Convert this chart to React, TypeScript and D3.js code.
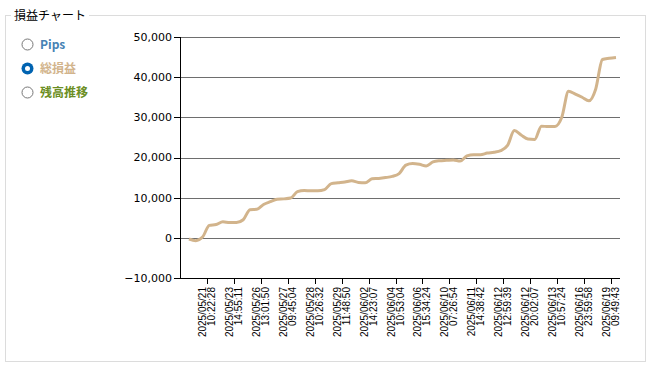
import { scaleLinear, line, curveMonotoneX, format } from "d3";

// 凡例(ラジオボタン)
const seriesNames = ["Pips", "総損益", "残高推移"];
const seriesColors = ["#4682B4", "#D2B48C", "#6B8E23"];
const selectedSeries = 1;

// 総損益の推移(取引ごと)
const pnl = [
  -300, -700, 200, 3100, 3300, 4000, 3800, 3800, 4500, 7000,
  7100, 8300, 9000, 9600, 9700, 9900, 11500, 11800, 11700, 11700,
  12000, 13500, 13700, 13900, 14200, 13800, 13700, 14700, 14800, 15000,
  15300, 16000, 18100, 18500, 18300, 17900, 18900, 19200, 19300, 19400,
  19100, 20400, 20700, 20700, 21100, 21300, 21700, 23000, 26700, 25600,
  24600, 24500, 27800, 27700, 27700, 30000, 36500, 35800, 35000, 34100,
  37000, 44400, 44700, 44900,
];

// X軸ラベル
const tickDates = [
  "2025/05/21", "2025/05/23", "2025/05/26", "2025/05/27",
  "2025/05/28", "2025/05/29", "2025/06/02", "2025/06/04",
  "2025/06/06", "2025/06/10", "2025/06/11", "2025/06/12",
  "2025/06/12", "2025/06/13", "2025/06/16", "2025/06/19",
];
const tickTimes = [
  "10:22:28", "14:55:11", "13:01:50", "09:45:04",
  "10:26:32", "11:48:50", "14:23:07", "10:53:04",
  "15:34:24", "07:26:54", "14:38:42", "12:59:39",
  "20:02:07", "10:57:24", "23:59:58", "09:49:43",
];

const yTicks = [-10000, 0, 10000, 20000, 30000, 40000, 50000];

const W = 654;
const H = 371;
const plot = { left: 180, right: 620, top: 37, bottom: 278 };

export default function App() {
  const x = scaleLinear().domain([0, pnl.length - 1]).range([189, 616]);
  const xTick = scaleLinear().domain([0, tickDates.length]).range([plot.left, 611]);
  const y = scaleLinear().domain([-10000, 50000]).range([plot.bottom, plot.top]);
  const fmt = format(",");

  const path = line<number>()
    .x((_, i) => x(i))
    .y((d) => y(d))
    .curve(curveMonotoneX)(pnl);

  const crisp = (v: number) => Math.round(v) + 0.5;

  return (
    <div style={{ position: "fixed", left: 0, top: 0, background: "#fff" }}>
      <svg width={W} height={H} style={{ display: "block" }}>
        <rect width={W} height={H} fill="#fff" />

        {/* グループボックス */}
        <rect x={5.5} y={15.5} width={640} height={346} fill="none" stroke="#dcdcdc" />
        <rect x={11} y={6} width={78} height={18} fill="#fff" />
        <text x={14} y={19.5} fontFamily="'Noto Sans CJK JP'" fontSize={12} fill="#000">
          損益チャート
        </text>

        {/* ラジオボタン */}
        {seriesNames.map((name, i) => {
          const cy = 44 + i * 24;
          const on = i === selectedSeries;
          return (
            <g key={name}>
              {on ? (
                <>
                  <circle cx={27.5} cy={cy + 0.5} r={6} fill="#0063B1" />
                  <circle cx={27.5} cy={cy + 0.5} r={2.5} fill="#fff" />
                </>
              ) : (
                <circle cx={27.5} cy={cy + 0.5} r={5.5} fill="#fff" stroke="#777" strokeWidth={1} />
              )}
              <text
                x={40}
                y={cy + 5}
                fontFamily="'Noto Sans CJK JP'"
                fontWeight="bold"
                fontSize={12}
                fill={seriesColors[i]}
              >
                {name}
              </text>
            </g>
          );
        })}

        {/* グリッド線とY軸ラベル */}
        {yTicks.map((t) => (
          <g key={t}>
            {t > yTicks[0] && (
              <line x1={plot.left} x2={plot.right} y1={crisp(y(t))} y2={crisp(y(t))} stroke="#6e6e6e" />
            )}
            <line x1={174} x2={plot.left} y1={crisp(y(t))} y2={crisp(y(t))} stroke="#000" />
            <text
              x={172}
              y={y(t)}
              dy="0.35em"
              textAnchor="end"
              fontFamily="'DejaVu Sans'"
              fontSize={11}
              fill="#000"
            >
              {fmt(t)}
            </text>
          </g>
        ))}

        {/* 軸 */}
        <line x1={crisp(plot.left)} x2={crisp(plot.left)} y1={plot.top} y2={plot.bottom + 1} stroke="#000" />
        <line x1={plot.left} x2={plot.right} y1={crisp(plot.bottom)} y2={crisp(plot.bottom)} stroke="#000" />

        {/* X軸目盛とラベル */}
        {tickDates.map((d, i) => {
          const tx = crisp(xTick(i + 1));
          return (
            <g key={i}>
              <line x1={tx} x2={tx} y1={plot.bottom} y2={plot.bottom + 6} stroke="#000" />
              <text
                transform={`translate(${tx},287) rotate(-90)`}
                textAnchor="end"
                fontFamily="'Liberation Sans'"
                fontSize={10}
                fill="#000"
              >
                <tspan x={0} y={-2}>{d}</tspan>
                <tspan x={0} y={7}>{tickTimes[i]}</tspan>
              </text>
            </g>
          );
        })}

        {/* 総損益ライン */}
        <path d={path ?? ""} fill="none" stroke={seriesColors[selectedSeries]} strokeWidth={3} strokeLinejoin="round" />
      </svg>
    </div>
  );
}
